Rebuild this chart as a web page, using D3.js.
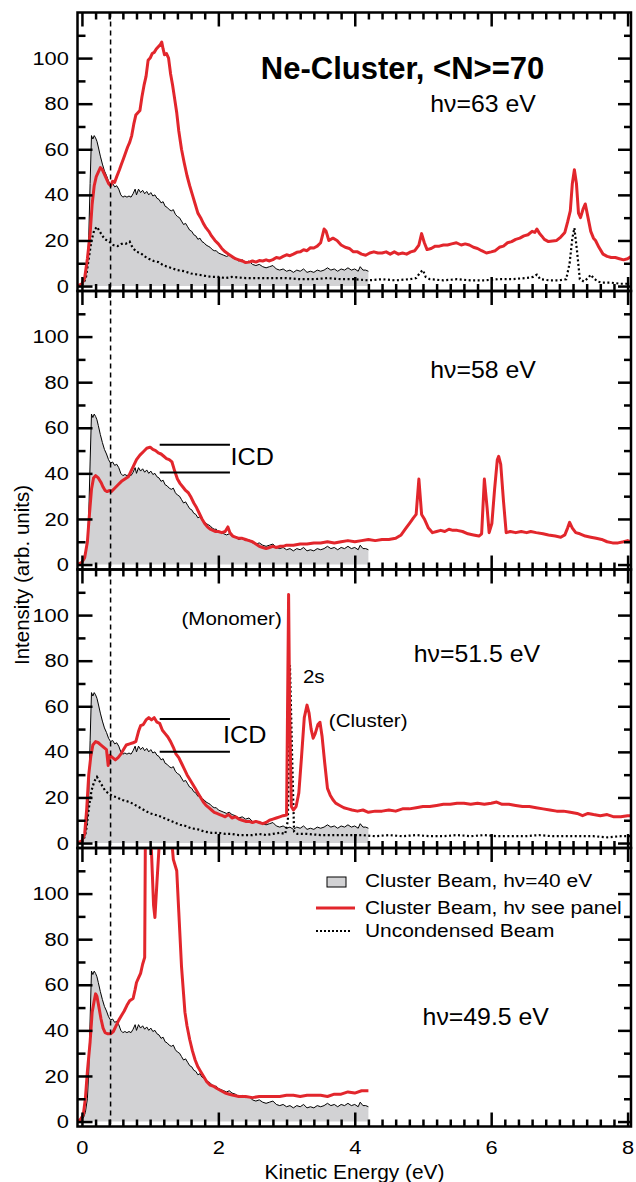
<!DOCTYPE html>
<html>
<head>
<meta charset="utf-8">
<script src="https://cdn.jsdelivr.net/npm/d3@7"></script>
<style>
  body { margin: 0; background: #fff; }
  text { font-family: "Liberation Sans", Arial, sans-serif; fill: #000; }
</style>
</head>
<body>
<div id="chart"></div>
<script>
// Ne-cluster electron spectra, 4 stacked panels
// reference spectrum (cluster beam, hv=40 eV), same in every panel
let clusterRef = [[-0.07,0],[-0.02,0.5],[0.02,1.5],[0.05,4],[0.08,10],[0.10,22],[0.12,45],[0.14,66],[0.16,64.5],[0.18,66],[0.20,65],[0.22,63.5],[0.24,61],[0.27,57],[0.30,53.5],[0.33,50.5],[0.36,48.5],[0.39,46],[0.42,44.5],[0.45,45],[0.48,43.5],[0.51,44],[0.54,42.5],[0.57,40],[0.60,39],[0.63,39.5],[0.66,39],[0.69,39.5],[0.72,39],[0.75,40.5],[0.78,42.5],[0.80,40],[0.83,42.5],[0.86,41],[0.89,42],[0.92,40.5],[0.95,41.5],[0.98,40],[1.01,41],[1.04,39.5],[1.07,40],[1.10,38.5],[1.13,38],[1.16,36.5],[1.19,37],[1.22,35],[1.25,34.5],[1.28,33.5],[1.31,33],[1.34,33.5],[1.37,31.5],[1.40,30.5],[1.43,30],[1.46,28.5],[1.49,27],[1.52,27.5],[1.55,26],[1.58,24.5],[1.61,24],[1.64,22.5],[1.67,22],[1.70,20.5],[1.73,21],[1.76,19.5],[1.79,19],[1.82,18],[1.85,17.5],[1.88,17],[1.91,16],[1.94,15.5],[1.97,15.5],[2.00,14.5],[2.04,14],[2.08,13.5],[2.12,13],[2.16,13.5],[2.20,12.5],[2.25,12],[2.30,11],[2.35,11.5],[2.40,10.5],[2.45,11],[2.50,9.5],[2.55,9],[2.60,9.5],[2.65,8.5],[2.70,8],[2.75,8.5],[2.80,9],[2.85,7.5],[2.90,7],[2.95,7.5],[3.00,6.5],[3.05,7],[3.10,6],[3.15,7],[3.20,6.5],[3.25,7.5],[3.30,6],[3.35,6.5],[3.40,6],[3.45,7],[3.50,6.5],[3.55,7],[3.60,8],[3.65,7],[3.70,7.5],[3.75,6.5],[3.80,7.5],[3.85,7],[3.90,8],[3.95,7],[4.00,7.5],[4.05,6.5],[4.08,8.5],[4.12,7],[4.16,7],[4.20,6.5]];

let red63 = [[-0.07,0],[0.0,1],[0.04,3.5],[0.08,12],[0.12,23],[0.15,36],[0.18,44],[0.21,48],[0.24,50],[0.27,52],[0.30,51],[0.33,49],[0.36,47],[0.39,45],[0.42,44],[0.45,46],[0.48,45.5],[0.51,48],[0.55,51],[0.58,53.5],[0.61,56],[0.64,58.5],[0.67,61],[0.70,63],[0.73,66],[0.76,71],[0.79,75],[0.82,76],[0.85,77],[0.88,83],[0.91,88],[0.94,92],[0.97,99],[1.00,100],[1.03,102],[1.06,102.5],[1.09,104],[1.12,105],[1.15,106],[1.17,107],[1.19,104],[1.21,101.5],[1.24,102],[1.27,100],[1.30,93],[1.33,88],[1.36,82],[1.39,76],[1.42,68],[1.46,60],[1.50,54],[1.54,48.5],[1.58,44],[1.62,40],[1.66,36],[1.70,32],[1.74,30],[1.78,27.5],[1.82,25.5],[1.86,24],[1.90,22],[1.95,20],[2.00,18.5],[2.05,16.5],[2.10,15],[2.15,14],[2.20,13],[2.25,12],[2.30,11.5],[2.35,11],[2.40,10.3],[2.45,10.5],[2.50,11],[2.55,10.5],[2.60,11.2],[2.65,11],[2.70,11.5],[2.75,11],[2.80,11.6],[2.85,12.5],[2.90,12.2],[2.95,13],[3.00,13.7],[3.05,13.3],[3.10,14],[3.15,14.8],[3.20,15],[3.25,15.9],[3.30,15.5],[3.35,16.8],[3.40,16.7],[3.45,17.5],[3.50,19],[3.55,25],[3.58,24],[3.62,20],[3.68,21],[3.74,20],[3.80,18],[3.86,17],[3.92,16.5],[3.98,15],[4.04,15],[4.10,14],[4.16,13.5],[4.22,14.5],[4.28,15],[4.34,14.5],[4.40,14.5],[4.46,15],[4.52,14],[4.58,15],[4.64,14],[4.70,14.5],[4.76,14],[4.82,15],[4.88,15.5],[4.94,18],[4.98,23],[5.02,19],[5.06,16],[5.12,16.5],[5.18,17.5],[5.24,17.5],[5.30,18],[5.36,18],[5.42,18.5],[5.49,19],[5.56,18],[5.62,18.5],[5.68,18],[5.74,17],[5.80,16.5],[5.86,15.5],[5.93,14.5],[6.00,15],[6.06,15.5],[6.12,17],[6.18,17.5],[6.24,19],[6.30,19.5],[6.36,20.5],[6.42,21],[6.48,22],[6.54,22.5],[6.60,24],[6.64,23.5],[6.67,25],[6.71,23],[6.74,22],[6.78,20.5],[6.84,19.5],[6.90,19.8],[6.96,20],[7.02,21.5],[7.08,23.5],[7.12,28],[7.16,33],[7.19,45],[7.22,51],[7.25,45],[7.28,32],[7.31,30],[7.35,34],[7.38,36],[7.42,30],[7.46,24],[7.50,21],[7.53,20],[7.58,17],[7.64,14],[7.70,13],[7.76,12.5],[7.82,12.5],[7.88,12],[7.94,11.5],[8.00,12],[8.05,13]];

let dotted63 = [[-0.07,0],[0.02,1],[0.06,4],[0.10,12],[0.14,20],[0.18,24.5],[0.22,26],[0.26,24],[0.30,22],[0.34,20.5],[0.40,19.5],[0.46,18],[0.52,17.5],[0.58,18.5],[0.64,18.5],[0.70,19.5],[0.74,17],[0.80,15],[0.86,14.5],[0.92,13],[0.98,12],[1.05,11],[1.12,10.5],[1.20,9],[1.30,8],[1.40,7],[1.50,6.5],[1.60,5.5],[1.70,5],[1.80,4.5],[1.90,4],[2.00,4],[2.10,3.5],[2.20,4],[2.40,3.5],[2.60,3.5],[2.80,3.5],[3.00,3.5],[3.20,3],[3.40,3],[3.60,3.5],[3.80,3],[4.00,3],[4.20,2.5],[4.40,3],[4.60,2.5],[4.80,3],[4.90,3.5],[4.96,6],[5.00,7],[5.04,4],[5.10,3],[5.30,2.5],[5.50,3],[5.70,2.5],[5.90,2.5],[6.10,3],[6.30,3],[6.50,3.5],[6.62,4],[6.67,5],[6.72,3],[6.85,2.5],[7.00,2.5],[7.10,3],[7.15,10],[7.19,21],[7.22,25.5],[7.26,15],[7.30,3],[7.36,2],[7.42,3.5],[7.46,5],[7.50,3.5],[7.56,2],[7.62,1.5],[7.75,1.5],[7.90,1],[8.05,1]];

let red58 = [[-0.07,0],[0.0,1],[0.04,3],[0.08,10],[0.11,22],[0.14,33],[0.17,38],[0.20,39],[0.24,38],[0.28,36],[0.31,34],[0.34,32.5],[0.37,32],[0.40,32.5],[0.43,32],[0.48,33.5],[0.53,35],[0.58,36.5],[0.63,37.5],[0.68,38.5],[0.72,41],[0.76,43.5],[0.80,46],[0.85,48],[0.90,49.5],[0.95,51],[1.00,51.5],[1.04,50.5],[1.08,50],[1.12,49],[1.16,48.5],[1.20,47.5],[1.24,46.5],[1.28,46],[1.32,45],[1.36,41],[1.40,37.5],[1.44,35.5],[1.48,34],[1.52,32.5],[1.56,31.5],[1.60,29.5],[1.64,27],[1.68,25],[1.72,22.5],[1.76,20],[1.80,18],[1.84,16.5],[1.88,15.5],[1.92,15],[1.96,14.5],[2.00,14.5],[2.05,14],[2.10,14.5],[2.14,16.5],[2.17,14],[2.21,12.5],[2.25,12],[2.30,11.5],[2.35,11.5],[2.40,11],[2.45,10.5],[2.50,10],[2.55,9],[2.60,8],[2.65,7.5],[2.70,7],[2.75,7.5],[2.80,8],[2.85,7.5],[2.90,8],[2.95,8],[3.00,8.5],[3.10,8.5],[3.20,9],[3.30,9],[3.40,9.5],[3.50,9.5],[3.60,10],[3.70,9.5],[3.80,10],[3.90,10.5],[4.00,10],[4.10,10.5],[4.20,11],[4.30,10.5],[4.40,11],[4.50,11],[4.60,11.5],[4.68,13],[4.74,15.5],[4.80,18],[4.86,20.5],[4.90,22],[4.94,37.5],[4.98,22],[5.02,20],[5.08,16],[5.14,14],[5.20,14.5],[5.26,15],[5.32,14.5],[5.38,15.5],[5.44,15],[5.50,15],[5.58,14.5],[5.66,13.5],[5.74,13],[5.82,12.5],[5.86,13.5],[5.90,37.5],[5.94,25],[5.97,14],[6.01,18],[6.05,33],[6.09,46],[6.11,47.5],[6.14,44],[6.18,28],[6.22,14],[6.28,14.5],[6.36,14],[6.44,14.5],[6.52,14],[6.58,14.5],[6.66,14],[6.76,13.5],[6.84,13],[6.94,12.5],[7.02,12],[7.08,13],[7.12,16],[7.15,18.5],[7.19,16],[7.24,14],[7.30,13.5],[7.38,12.5],[7.46,12],[7.54,11.5],[7.62,11],[7.70,10],[7.78,9.5],[7.86,9.5],[7.94,10],[8.00,10.5],[8.05,10]];

let red515 = [[-0.07,0],[0.0,1],[0.04,4],[0.07,15],[0.10,30],[0.13,38],[0.16,43],[0.20,44.5],[0.24,44],[0.28,43],[0.32,42],[0.36,41],[0.385,34],[0.41,38.5],[0.45,37.5],[0.49,36.5],[0.53,37.5],[0.57,39],[0.61,41],[0.65,43],[0.70,43.5],[0.75,44],[0.79,44.5],[0.83,49],[0.86,51.5],[0.90,52],[0.94,54],[0.98,55],[1.02,54],[1.06,55],[1.10,53],[1.14,52.5],[1.18,49.5],[1.22,48],[1.26,46.5],[1.30,44.5],[1.34,42],[1.38,39],[1.42,37.5],[1.46,35],[1.50,32.5],[1.54,30],[1.58,28],[1.62,26],[1.66,24],[1.70,22],[1.74,20],[1.78,18],[1.82,16.5],[1.86,15.5],[1.90,14.5],[1.94,13.5],[1.98,13],[2.02,12.5],[2.06,12],[2.10,11.5],[2.15,12.5],[2.20,11],[2.25,11.5],[2.30,10.5],[2.35,10],[2.40,9.5],[2.45,9.5],[2.50,9],[2.55,9.5],[2.60,9],[2.65,8.5],[2.70,9],[2.75,10],[2.80,10.5],[2.85,11],[2.90,11.5],[2.95,12],[3.00,12.3],[3.015,60],[3.03,109],[3.045,60],[3.07,16],[3.10,14.5],[3.14,16],[3.18,22],[3.22,38],[3.26,55],[3.30,60.5],[3.33,57],[3.36,50],[3.39,46],[3.42,48],[3.46,52],[3.49,53],[3.52,47],[3.56,35],[3.60,24],[3.64,21],[3.68,19],[3.72,17.5],[3.78,16.5],[3.84,15.5],[3.90,15],[3.96,14.5],[4.04,14],[4.12,14.5],[4.20,13.5],[4.30,14],[4.40,14],[4.50,14.5],[4.60,14],[4.70,15],[4.80,15],[4.90,15.5],[5.00,16],[5.10,16],[5.20,16.5],[5.30,17],[5.40,17],[5.50,17.5],[5.60,17.5],[5.70,17],[5.80,17.5],[5.90,17],[6.00,17.5],[6.08,18],[6.16,17],[6.26,17],[6.36,16.5],[6.46,16],[6.56,16],[6.66,15.5],[6.76,15],[6.86,14.5],[6.96,14],[7.06,14],[7.16,13.5],[7.26,13],[7.34,12],[7.42,13],[7.50,12.5],[7.60,12],[7.70,12.5],[7.80,11.5],[7.90,11.5],[8.00,12],[8.05,12]];

let dotted515 = [[-0.07,0],[0.02,1],[0.06,5],[0.10,15],[0.14,23],[0.18,27],[0.22,29],[0.26,27],[0.30,25],[0.34,23],[0.40,21.5],[0.46,20.5],[0.52,20],[0.58,19],[0.64,18.5],[0.70,18],[0.76,17],[0.82,16],[0.88,15],[0.94,14],[1.00,13],[1.06,12.5],[1.12,12],[1.20,11],[1.28,10],[1.36,9],[1.44,8],[1.52,7.5],[1.60,6.5],[1.70,6],[1.80,5],[1.90,4.5],[2.00,4.5],[2.10,4],[2.20,4],[2.30,3.5],[2.40,3.5],[2.50,3.5],[2.60,4],[2.70,3.5],[2.80,4],[2.90,4.5],[2.98,4],[3.02,10],[3.05,78],[3.08,40],[3.11,5],[3.16,4],[3.30,4],[3.50,3.5],[3.70,3.5],[3.90,3.5],[4.10,3.5],[4.30,3],[4.50,3.5],[4.70,3],[4.90,3.5],[5.10,3],[5.30,3],[5.50,3.5],[5.70,3],[5.90,3.5],[6.10,3],[6.30,3],[6.50,3],[6.70,3.5],[6.90,3],[7.10,3],[7.30,3],[7.50,3],[7.70,2.5],[7.90,3],[8.05,3]];

let red495 = [[-0.07,0],[-0.02,1],[0.02,3],[0.05,10],[0.08,22],[0.12,35],[0.15,48],[0.18,53],[0.20,56],[0.22,55],[0.25,50],[0.28,45],[0.31,41],[0.34,39],[0.38,38.5],[0.42,38.5],[0.46,39.5],[0.50,42],[0.54,44.5],[0.58,46.5],[0.62,48.5],[0.66,51],[0.70,53],[0.75,54],[0.78,58],[0.80,61],[0.83,63],[0.86,65],[0.89,69],[0.92,72],[0.93,125],[0.96,150],[1.00,130],[1.02,118],[1.05,95],[1.07,89.5],[1.10,105],[1.14,125],[1.20,150],[1.28,150],[1.32,122],[1.34,115],[1.37,112],[1.39,110],[1.42,92],[1.46,68],[1.49,56],[1.51,48],[1.54,42],[1.58,36],[1.62,31],[1.66,27],[1.70,24],[1.74,22],[1.78,20],[1.83,17.5],[1.88,16],[1.93,15.5],[1.98,14.5],[2.04,13.5],[2.10,12.5],[2.16,12],[2.22,11.5],[2.30,11],[2.40,11],[2.50,10.5],[2.60,11],[2.70,11],[2.80,11],[2.90,11],[3.00,11.5],[3.10,11.5],[3.20,11],[3.30,11.5],[3.40,11.5],[3.50,11.5],[3.60,11],[3.70,12],[3.80,12],[3.90,13],[4.00,12.5],[4.10,13.5],[4.20,13.5]];

let photonLabels = ["h\u03bd=63 eV", "h\u03bd=58 eV", "h\u03bd=51.5 eV", "h\u03bd=49.5 eV"];
let legendLabels = ["Cluster Beam, h\u03bd=40 eV", "Cluster Beam, h\u03bd see panel", "Uncondensed Beam"];
let xTicks = [0, 2, 4, 6, 8];
let yTicks = [0, 20, 40, 60, 80, 100];

let svgWidth = 636;
let svgHeight = 1182;
let panelTop = 12.5;
let panelH = 278.5;
let red = "#e2262c";

let svg = d3.select("#chart").append("svg")
  .attr("width", svgWidth)
  .attr("height", svgHeight);

let x = d3.scaleLinear().domain([-0.065, 8.05]).range([77.5, 631]);

// text helper, the figure's lettering is slightly wide
function addText(g, px, py, str, size, opts) {
  opts = opts || {};
  let t = g.append("text")
    .attr("transform", `translate(${px},${py}) scale(${opts.sx || 1.1},1)`)
    .attr("font-size", size)
    .attr("text-anchor", opts.anchor || "start")
    .text(str);
  if (opts.bold) t.attr("font-weight", "bold");
  return t;
}

let panels = [
  { red: red63, dotted: dotted63, lab: [5.88, 76.3] },
  { red: red58, dotted: null, lab: [5.88, 81.8] },
  { red: red515, dotted: dotted515, lab: [5.79, 79.4] },
  { red: red495, dotted: null, lab: [5.92, 42.4] }
];

let minorX = d3.range(41).filter(i => i % 10).map(i => i / 5);
let minorY = [10, 30, 50, 70, 90, 110];

panels.forEach(function(p, i) {
  let top = panelTop + i * panelH;
  let y = d3.scaleLinear().domain([120 - panelH / 2.2796, 120]).range([top + panelH, top]);
  let g = svg.append("g");

  g.append("clipPath").attr("id", "clip" + i)
    .append("rect").attr("x", 77.5).attr("y", top).attr("width", 631 - 77.5).attr("height", panelH);
  let plot = g.append("g").attr("clip-path", `url(#clip${i})`);

  // gray reference spectrum
  plot.append("path").datum(clusterRef)
    .attr("fill", "#d2d2d4")
    .attr("d", d3.area().x(d => x(d[0])).y0(y(0)).y1(d => y(d[1])));
  plot.append("path").datum(clusterRef)
    .attr("fill", "none").attr("stroke", "#000").attr("stroke-width", 1)
    .attr("d", d3.line().x(d => x(d[0])).y(d => y(d[1])));

  if (p.dotted) {
    plot.append("path").datum(p.dotted)
      .attr("fill", "none").attr("stroke", "#000").attr("stroke-width", 2.2)
      .attr("stroke-dasharray", "2,2.5")
      .attr("d", d3.line().x(d => x(d[0])).y(d => y(d[1])));
  }

  plot.append("path").datum(p.red)
    .attr("fill", "none").attr("stroke", red).attr("stroke-width", 3)
    .attr("stroke-linejoin", "round")
    .attr("d", d3.line().x(d => x(d[0])).y(d => y(d[1])));

  // inward ticks on all four sides
  let last = i === panels.length - 1;
  let bottom = g.append("g").attr("transform", `translate(0,${top + panelH})`);
  bottom.call(d3.axisBottom(x).tickValues(xTicks).tickSize(-14).tickPadding(14)
    .tickFormat(last ? d3.format("d") : ""));
  bottom.append("g").call(d3.axisBottom(x).tickValues(minorX).tickSize(-7).tickFormat(""));

  let topAx = g.append("g").attr("transform", `translate(0,${top})`);
  topAx.call(d3.axisTop(x).tickValues(xTicks).tickSize(-14).tickFormat(""));
  topAx.append("g").call(d3.axisTop(x).tickValues(minorX).tickSize(-7).tickFormat(""));

  let left = g.append("g").attr("transform", "translate(77.5,0)");
  left.call(d3.axisLeft(y).tickValues(yTicks).tickSize(-15).tickPadding(7.5));
  left.append("g").call(d3.axisLeft(y).tickValues(minorY).tickSize(-8).tickFormat(""));

  let right = g.append("g").attr("transform", "translate(631,0)");
  right.call(d3.axisRight(y).tickValues(yTicks).tickSize(-13).tickFormat(""));
  right.append("g").call(d3.axisRight(y).tickValues(minorY).tickSize(-7).tickFormat(""));

  g.selectAll(".domain").remove();
  g.selectAll(".tick line").attr("stroke", "#000").attr("stroke-width", 2.5);
  g.selectAll(".tick text")
    .attr("font-family", '"Liberation Sans", Arial, sans-serif')
    .attr("font-size", 19).attr("fill", "#000")
    .attr("transform", "scale(1.15,1)");

  g.append("rect")
    .attr("x", 77.5).attr("y", top).attr("width", 631 - 77.5).attr("height", panelH)
    .attr("fill", "none").attr("stroke", "#000").attr("stroke-width", 2.5);

  addText(g, x(p.lab[0]), y(p.lab[1]), photonLabels[i], 23, { anchor: "middle", sx: 1.08 });

  p.y = y;
});

// dashed marker through all panels
svg.append("line")
  .attr("x1", x(0.42)).attr("x2", x(0.42))
  .attr("y1", panelTop).attr("y2", panelTop + 4 * panelH)
  .attr("stroke", "#000").attr("stroke-width", 1.5).attr("stroke-dasharray", "5,4");

// title
addText(svg, x(4.70), panels[0].y(90.8), "Ne-Cluster, <N>=70", 31, { anchor: "middle", bold: true, sx: 1 });

// ICD bars (panels 2 and 3)
let icdBars = [[1, 1.14, 2.17, 52.6, 40.4, 2.18, 43.7], [2, 1.14, 2.17, 54.4, 40.0, 2.07, 43.9]];
icdBars.forEach(function(b) {
  let y = panels[b[0]].y;
  [b[3], b[4]].forEach(v => {
    svg.append("line")
      .attr("x1", x(b[1])).attr("x2", x(b[2]))
      .attr("y1", y(v)).attr("y2", y(v))
      .attr("stroke", "#000").attr("stroke-width", 2);
  });
  addText(svg, x(b[5]), y(b[6]), "ICD", 24, { sx: 1.05 });
});

// peak annotations in the 51.5 eV panel
let y3 = panels[2].y;
addText(svg, x(2.93), y3(95.7), "(Monomer)", 19, { anchor: "end", sx: 1.08 });
addText(svg, x(3.24), y3(70.2), "2s", 19, { sx: 1.08 });
addText(svg, x(3.62), y3(50.9), "(Cluster)", 19, { sx: 1.08 });

// legend in bottom panel
let leg = svg.append("g");
leg.append("rect").attr("x", 327).attr("y", 877).attr("width", 19).attr("height", 10)
  .attr("fill", "#d2d2d4").attr("stroke", "#000").attr("stroke-width", 1);
leg.append("line").attr("x1", 316).attr("x2", 355).attr("y1", 908).attr("y2", 908)
  .attr("stroke", red).attr("stroke-width", 3);
leg.append("line").attr("x1", 316).attr("x2", 351).attr("y1", 931).attr("y2", 931)
  .attr("stroke", "#000").attr("stroke-width", 2).attr("stroke-dasharray", "2,2");
addText(leg, 365, 887, legendLabels[0], 19, { sx: 1.1 });
addText(leg, 365, 914, legendLabels[1], 19, { sx: 1.1 });
addText(leg, 365, 937, legendLabels[2], 19, { sx: 1.1 });

// axis titles
svg.append("text")
  .attr("transform", `translate(29,575) rotate(-90)`)
  .attr("text-anchor", "middle").attr("font-size", 20.5)
  .text("Intensity (arb. units)");
addText(svg, 354.5, 1179, "Kinetic Energy (eV)", 20.5, { anchor: "middle", sx: 1.02 });
</script>
</body>
</html>
